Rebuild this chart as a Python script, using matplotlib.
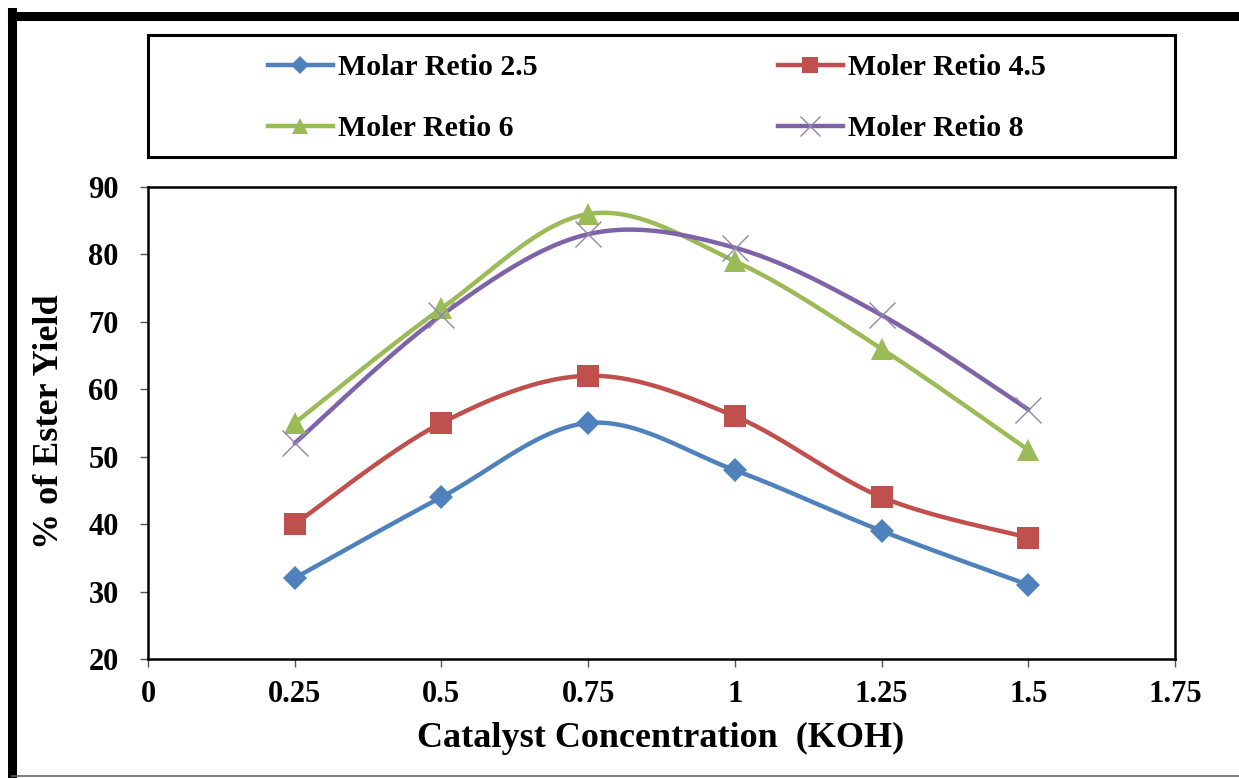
import numpy as np
import matplotlib
matplotlib.use("Agg")
import matplotlib.pyplot as plt
from matplotlib.lines import Line2D
from matplotlib.patches import Rectangle

# ---- data ----
catalyst = [0.25, 0.5, 0.75, 1.0, 1.25, 1.5]
ratio_2_5 = [32, 44, 55, 48, 39, 31]
ratio_4_5 = [40, 55, 62, 56, 44, 38]
ratio_6 = [55, 72, 86, 79, 66, 51]
ratio_8 = [52, 71, 83, 81, 71, 57]
labels = ["Molar Retio 2.5", "Moler Retio 4.5", "Moler Retio 6", "Moler Retio 8"]
x_ticks = [0, 0.25, 0.5, 0.75, 1, 1.25, 1.5, 1.75]
x_tick_labels = ["0", "0.25", "0.5", "0.75", "1", "1.25", "1.5", "1.75"]
y_ticks = [20, 30, 40, 50, 60, 70, 80, 90]

plt.rcParams['font.family'] = ['Liberation Serif', 'DejaVu Serif']
plt.rcParams['font.weight'] = 'bold'

W, H = 1239, 778
fig = plt.figure(figsize=(W / 100, H / 100), dpi=100)
fig.patch.set_facecolor('white')


def catmull_rom(xs, ys, n=30):
    xs = np.asarray(xs, float)
    ys = np.asarray(ys, float)
    px = np.concatenate([[xs[0]], xs, [xs[-1]]])
    py = np.concatenate([[ys[0]], ys, [ys[-1]]])
    ox, oy = [], []
    t = np.linspace(0, 1, n)
    for i in range(1, len(px) - 2):
        p0x, p1x, p2x, p3x = px[i - 1], px[i], px[i + 1], px[i + 2]
        p0y, p1y, p2y, p3y = py[i - 1], py[i], py[i + 1], py[i + 2]
        c1x = p1x + (p2x - p0x) / 6.0
        c1y = p1y + (p2y - p0y) / 6.0
        c2x = p2x - (p3x - p1x) / 6.0
        c2y = p2y - (p3y - p1y) / 6.0
        bx = (1 - t) ** 3 * p1x + 3 * (1 - t) ** 2 * t * c1x + 3 * (1 - t) * t ** 2 * c2x + t ** 3 * p2x
        by = (1 - t) ** 3 * p1y + 3 * (1 - t) ** 2 * t * c1y + 3 * (1 - t) * t ** 2 * c2y + t ** 3 * p2y
        ox.extend(bx if i == 1 else bx[1:])
        oy.extend(by if i == 1 else by[1:])
    return np.array(ox), np.array(oy)


ax = fig.add_axes([148 / W, 1 - 659 / H, (1175 - 148) / W, (659 - 187) / H])

series = [ratio_2_5, ratio_4_5, ratio_6, ratio_8]
colors = ['#4F81BD', '#C0504D', '#9BBB59', '#7F63A8']
markers = ['D', 's', '^', 'x']
msizes = [12, 16, 16, 19]
mcolors = ['#4F81BD', '#C0504D', '#9BBB59', '#8F86AC']
handles = []
for vals, c, m, ms, mc, lab in zip(series, colors, markers, msizes, mcolors, labels):
    sx, sy = catmull_rom(catalyst, vals)
    ax.plot(sx, sy, color=c, lw=3.2, solid_capstyle='round', zorder=2)
    if m == 'x':
        ax.plot(catalyst, vals, linestyle='none', marker=m, ms=ms, mew=1.0,
                color=mc, zorder=3)
    else:
        ax.plot(catalyst, vals, linestyle='none', marker=m, ms=ms, mew=0,
                color=mc, zorder=3)
    handles.append(Line2D([], [], color=c, lw=3.2, marker=m, ms=ms * 0.75,
                          mew=(1.0 if m == 'x' else 0), markeredgecolor=mc,
                          markerfacecolor=mc))

ax.set_xlim(0, 1.75)
ax.set_ylim(20, 90)
ax.set_xticks(x_ticks)
ax.set_xticklabels(x_tick_labels)
ax.set_yticks(y_ticks)
for s in ax.spines.values():
    s.set_linewidth(1.8)
    s.set_color('black')
ax.tick_params(axis='both', direction='out', length=6, width=1.0, color='#555555',
               labelsize=22)
ax.tick_params(axis='y', pad=15)
ax.tick_params(axis='x', pad=9)
for t in ax.get_xticklabels() + ax.get_yticklabels():
    t.set_fontweight('bold')

fig.text(661 / W, 1 - 738 / H, "Catalyst Concentration  (KOH)", ha='center', va='center',
         fontsize=26, fontweight='bold')
fig.text(50 / W, 1 - 422 / H, "% of Ester Yield", ha='center', va='center',
         rotation=90, fontsize=26, fontweight='bold')

# legend box
fig.patches.append(Rectangle((148 / W, 1 - 157 / H), (1175 - 148) / W, (157 - 35) / H,
                             transform=fig.transFigure, fill=False, edgecolor='black',
                             linewidth=2.2))
leg_kw = dict(loc='center left', frameon=False, handlelength=2.17, handletextpad=0.17,
              labelspacing=1.14, borderpad=0, borderaxespad=0,
              prop={'weight': 'bold', 'size': 21.5})
fig.legend([handles[0], handles[2]], [labels[0], labels[2]],
           bbox_to_anchor=(268 / W, 1 - 98 / H), **leg_kw)
fig.legend([handles[1], handles[3]], [labels[1], labels[3]],
           bbox_to_anchor=(778 / W, 1 - 98 / H), **leg_kw)

# outer figure border
fig.add_artist(Line2D([12 / W, 1.0], [1 - 16 / H, 1 - 16 / H], transform=fig.transFigure,
                      color='black', lw=6.5))
fig.add_artist(Line2D([12 / W, 12 / W], [0, 1 - 12 / H], transform=fig.transFigure,
                      color='black', lw=6.5))
fig.add_artist(Line2D([12 / W, 1.0], [1 - 776 / H, 1 - 776 / H], transform=fig.transFigure,
                      color='#666666', lw=1.2))

fig.savefig("out.png", dpi=100)
